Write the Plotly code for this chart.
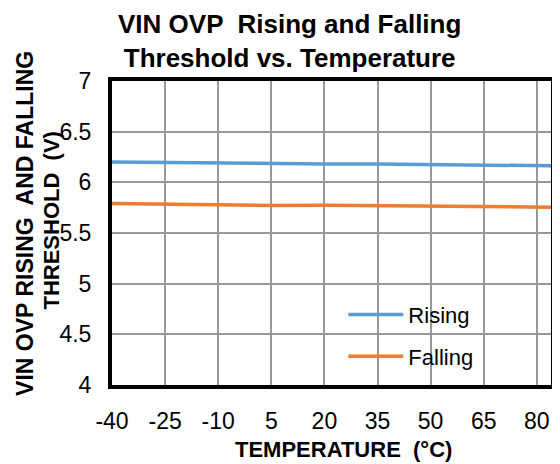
import plotly.graph_objects as go

temps = [-40, -25, -10, 5, 20, 35, 50, 65, 80, 85]
rising = [6.20, 6.195, 6.185, 6.18, 6.182, 6.18, 6.175, 6.17, 6.165, 6.163]
falling = [5.79, 5.785, 5.775, 5.772, 5.775, 5.772, 5.768, 5.762, 5.757, 5.755]
x_ticks = [-40, -25, -10, 5, 20, 35, 50, 65, 80]
y_ticks = [4, 4.5, 5, 5.5, 6, 6.5, 7]

FONT = "Liberation Sans, Arial, sans-serif"

fig = go.Figure()
fig.add_trace(go.Scatter(x=temps, y=rising, mode="lines", name="Rising",
                         line=dict(color="#5B9BD5", width=3.5), legendgroup="a"))
fig.add_trace(go.Scatter(x=temps, y=falling, mode="lines", name="Falling",
                         line=dict(color="#ED7D31", width=3.5), legendgroup="b"))

fig.update_layout(
    width=552, height=456,
    margin=dict(l=104, r=5, t=73, b=79),
    paper_bgcolor="white", plot_bgcolor="white",
    font=dict(family=FONT, color="black", size=22),
    showlegend=True,
    legend=dict(x=0.527, y=0.30, xanchor="left", yanchor="top",
                bgcolor="rgba(0,0,0,0)", font=dict(size=22),
                tracegroupgap=10, itemwidth=55),
)
fig.update_xaxes(range=[-40, 84], tickmode="array", tickvals=x_ticks,
                 ticktext=[str(v) for v in x_ticks],
                 showgrid=True, gridcolor="#999999", gridwidth=1.5,
                 showline=True, mirror=True, linecolor="black", linewidth=4,
                 ticks="outside", ticklen=12, tickcolor="rgba(0,0,0,0)",
                 zeroline=False, tickfont=dict(size=23))
fig.update_yaxes(range=[4, 7], tickmode="array", tickvals=y_ticks,
                 ticktext=[("%g" % v) for v in y_ticks],
                 showgrid=True, gridcolor="#999999", gridwidth=1.5,
                 showline=True, mirror=True, linecolor="black", linewidth=4,
                 ticks="outside", ticklen=12, tickcolor="rgba(0,0,0,0)",
                 zeroline=False, tickfont=dict(size=23))

# white box behind legend (covers gridlines)
fig.add_shape(type="rect", xref="paper", yref="paper",
              x0=0.40, x1=0.965, y0=0.01, y1=0.32,
              fillcolor="white", line=dict(width=0), layer="between")

fig.add_annotation(text="<b>VIN OVP  Rising and Falling<br>Threshold vs. Temperature</b>",
                   xref="paper", yref="paper", x=0.405, y=1.0, yshift=6,
                   xanchor="center", yanchor="bottom", showarrow=False,
                   font=dict(size=26), align="center")
fig.add_annotation(text="<b>TEMPERATURE  (°C)</b>",
                   xref="paper", yref="paper", x=0.527, y=0, yshift=-50,
                   xanchor="center", yanchor="top", showarrow=False,
                   font=dict(size=22))
fig.add_annotation(text="<b>VIN OVP RISING  AND FALLING</b>",
                   xref="paper", yref="paper", x=0, xshift=-87, y=0.53,
                   xanchor="center", yanchor="middle", showarrow=False,
                   textangle=-90, font=dict(size=23))
fig.add_annotation(text="<b>THRESHOLD  (V)</b>",
                   xref="paper", yref="paper", x=0, xshift=-60, y=0.541,
                   xanchor="center", yanchor="middle", showarrow=False,
                   textangle=-90, font=dict(size=22))

fig.write_html("out.html")
